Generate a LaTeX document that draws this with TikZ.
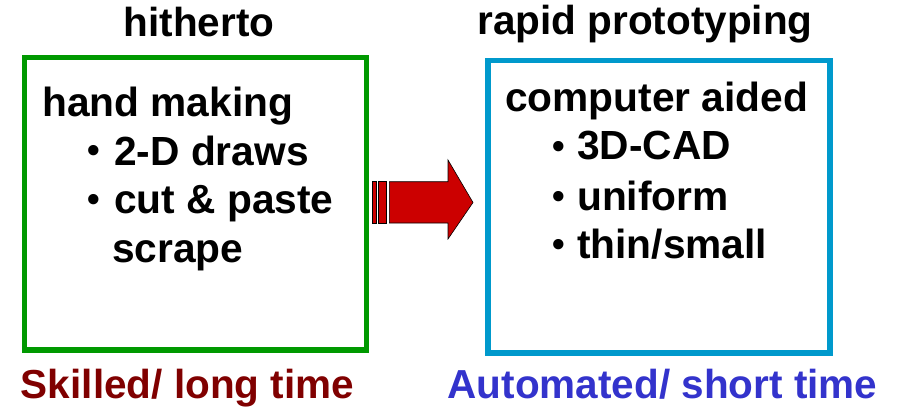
\documentclass[tikz,border=0pt]{standalone}
\usepackage{fontspec}
\setmainfont{Liberation Sans}
\definecolor{boxgreen}{HTML}{009900}
\definecolor{boxblue}{HTML}{0099CC}
\definecolor{arrowred}{HTML}{CC0000}
\definecolor{skillred}{HTML}{800000}
\definecolor{autoblue}{HTML}{3333CC}
\begin{document}
\begin{tikzpicture}[x=1pt,y=-1pt,
  txt/.style={inner sep=0pt,anchor=base west,font=\fontsize{40.7}{40.7}\selectfont\bfseries},
  ttl/.style={inner sep=0pt,anchor=base,font=\fontsize{40.5}{40.5}\selectfont\bfseries},
  bul/.style={inner sep=0pt,anchor=base,font=\fontsize{36}{36}\selectfont\bfseries},
  framebox/.style={draw,line width=5.5pt,minimum width=342pt,minimum height=292.5pt,inner sep=0pt},
  arrowpart/.style={fill=arrowred,draw=black,line width=0.6pt}]
\useasboundingbox (0,0) rectangle (902,409);
% boxes
\node[framebox,draw=boxgreen] (lbox) at (195.5,203.75) {};
\node[framebox,draw=boxblue] (rbox) at (659,206.65) {};
% titles
\node[ttl] (t1) at (199,36.5) {hitherto};
\node[ttl] (t2) at (645,34.5) {rapid prototyping};
% left content
\node[txt] (l0) at (42,117) {hand making};
\node[bul] (lb1) at (94,163) {•};
\node[txt] (l1) at (114,165) {2-D draws};
\node[bul] (lb2) at (94,211) {•};
\node[txt] (l2) at (114,213) {cut \& paste};
\node[txt] (l3) at (112,262) {scrape};
% right content
\node[txt] (r0) at (505,111.5) {computer aided};
\node[bul] (rb1) at (559,158) {•};
\node[txt] (r1) at (577,160) {3D-CAD};
\node[bul] (rb2) at (559,208) {•};
\node[txt] (r2) at (577,210) {uniform};
\node[bul] (rb3) at (559,256) {•};
\node[txt] (r3) at (577,258) {thin/small};
% bottom labels
\node[ttl,text=skillred] (b1) at (187.5,398.5) {Skilled/ long time};
\node[ttl,text=autoblue] (b2) at (662.5,398.5) {Automated/ short time};
% arrow
\draw[arrowpart] (372.7,181.7) rectangle (376.7,223);
\draw[arrowpart] (378,181.7) rectangle (386.7,223);
\draw[arrowpart] (389.3,181.7) -- (448,181.7) -- (448,160) -- (473,202.5)
  -- (448,239) -- (448,223) -- (389.3,223) -- cycle;
\end{tikzpicture}
\end{document}
